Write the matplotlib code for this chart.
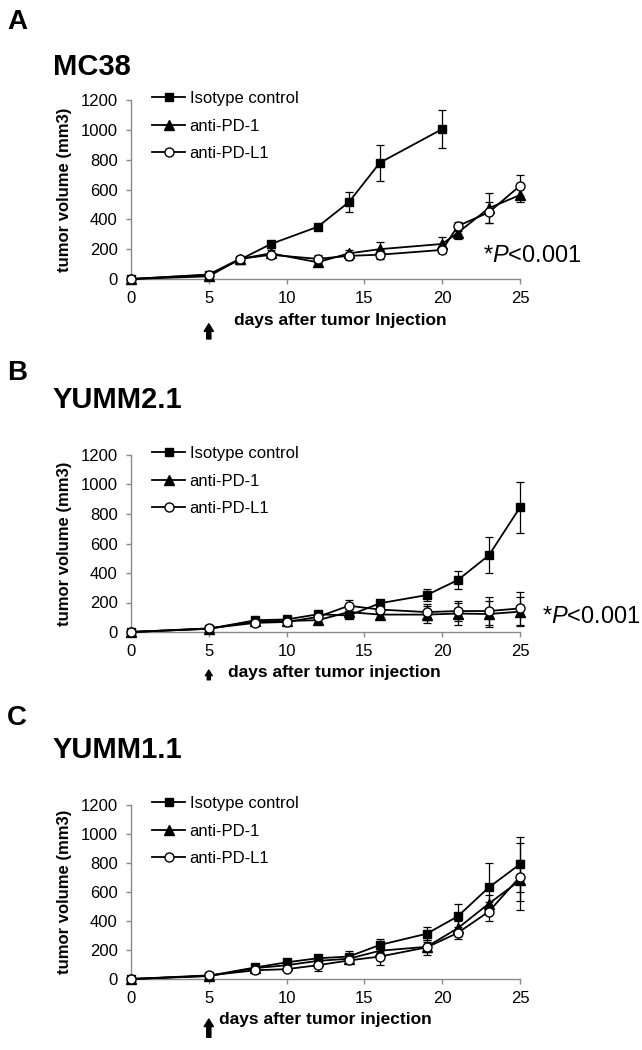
import matplotlib
matplotlib.use("Agg")
import matplotlib.pyplot as plt

plt.rcParams['font.family'] = ['Liberation Sans', 'DejaVu Sans']
plt.rcParams['mathtext.fontset'] = 'custom'
plt.rcParams['mathtext.rm'] = 'Liberation Sans'
plt.rcParams['mathtext.it'] = 'Liberation Sans:italic'

GROUPS = ["Isotype control", "anti-PD-1", "anti-PD-L1"]

# MC38 (panel A)
days_iso_a = [0, 5, 7, 9, 12, 14, 16, 20]
iso_a = [0, 28, 130, 235, 350, 515, 780, 1005]
iso_a_err = [0, 8, 15, 20, 15, 65, 120, 125]
days_a = [0, 5, 7, 9, 12, 14, 16, 20, 21, 23, 25]
pd1_a = [0, 18, 135, 172, 112, 172, 200, 235, 310, 475, 563]
pd1_a_err = [0, 5, 15, 20, 15, 25, 45, 45, 40, 100, 50]
pdl1_a = [0, 30, 135, 162, 135, 155, 163, 195, 355, 447, 625]
pdl1_a_err = [0, 8, 15, 15, 25, 25, 30, 20, 30, 70, 70]

# YUMM2.1 (panel B)
days_b = [0, 5, 8, 10, 12, 14, 16, 19, 21, 23, 25]
iso_b = [0, 22, 80, 85, 120, 112, 195, 250, 352, 520, 845]
iso_b_err = [0, 5, 12, 12, 15, 20, 20, 40, 62, 122, 172]
pd1_b = [0, 22, 72, 75, 80, 135, 118, 118, 125, 122, 138]
pd1_b_err = [0, 5, 10, 10, 12, 30, 20, 55, 75, 85, 100]
pdl1_b = [0, 25, 62, 68, 102, 178, 152, 135, 142, 142, 160]
pdl1_b_err = [0, 5, 10, 12, 15, 40, 25, 55, 70, 95, 112]

# YUMM1.1 (panel C)
days_c = [0, 5, 8, 10, 12, 14, 16, 19, 21, 23, 25]
iso_c = [0, 22, 80, 115, 143, 155, 235, 312, 432, 632, 792]
iso_c_err = [0, 5, 10, 15, 15, 40, 40, 45, 85, 165, 190]
pd1_c = [0, 20, 75, 95, 125, 140, 195, 222, 350, 520, 680]
pd1_c_err = [0, 5, 10, 12, 15, 20, 30, 35, 50, 60, 140]
pdl1_c = [0, 25, 60, 68, 95, 128, 155, 218, 318, 465, 705]
pdl1_c_err = [0, 5, 10, 12, 40, 20, 58, 50, 40, 65, 230]

STYLES = [dict(marker="s", mfc="black", ms=6),
          dict(marker="^", mfc="black", ms=6.5),
          dict(marker="o", mfc="white", ms=6.5)]
GREY = "#8a8a8a"

fig = plt.figure(figsize=(6.42, 10.5), dpi=100)


def panel(rect, series, xlab, xlab_x, arrow_y, ptext=None, arrow_scale=12):
    ax = fig.add_axes(rect)
    handles = []
    for (x, y, e), st, name in zip(series, STYLES, GROUPS):
        ax.errorbar(x, y, yerr=e, fmt="none", ecolor="black", elinewidth=0.9,
                    capsize=3, capthick=0.9, clip_on=False, zorder=2)
        h, = ax.plot(x, y, color="black", lw=1.3, mec="black", mew=1.0,
                     clip_on=False, zorder=3, label=name, **st)
        handles.append(h)
    ax.set_xlim(0, 25)
    ax.set_ylim(0, 1200)
    ax.set_xticks(range(0, 26, 5))
    ax.set_yticks(range(0, 1201, 200))
    for s in ["top", "right"]:
        ax.spines[s].set_visible(False)
    for s in ["left", "bottom"]:
        ax.spines[s].set_color(GREY)
        ax.spines[s].set_linewidth(1.0)
    ax.tick_params(colors=GREY, labelcolor="black", labelsize=12, length=3.5, width=1.0)
    ax.tick_params(axis="x", pad=5)
    ax.tick_params(axis="y", pad=6)
    ax.set_ylabel("tumor volume (mm3)", fontsize=12, fontweight="bold")
    ax.yaxis.label.set_va("center")
    ax.yaxis.set_label_coords(-0.17, 0.5)
    ax.set_xlabel(xlab, fontsize=12.5, fontweight="bold")
    ax.xaxis.label.set_va("center")
    ax.xaxis.set_label_coords(xlab_x, -0.23)
    ax.legend(handles=handles, loc="upper left", bbox_to_anchor=(0.054, 1.05),
              frameon=False, fontsize=12, handlelength=2.0, handletextpad=0.25,
              labelspacing=0.75, borderpad=0, borderaxespad=0)
    # treatment start arrow under day 5
    ax.annotate("", xy=(5, arrow_y[0]), xytext=(5, arrow_y[1]),
                xycoords=("data", "axes fraction"), textcoords=("data", "axes fraction"),
                arrowprops=dict(arrowstyle="simple,head_width=0.55,head_length=0.45,tail_width=0.25",
                                color="black", mutation_scale=arrow_scale,
                                shrinkA=0, shrinkB=0))
    if ptext:
        ax.text(ptext[0], ptext[1], r"*$\mathit{P}$<0.001", fontsize=17,
                ha="left", va="center", clip_on=False)
    return ax


panel([131/642, 1-279/1050, 389/642, 179/1050],
      [(days_iso_a, iso_a, iso_a_err), (days_a, pd1_a, pd1_a_err), (days_a, pdl1_a, pdl1_a_err)],
      "days after tumor Injection", 0.537, (-0.25, -0.335), (22.6, 154))
panel([131/642, 1-632/1050, 389/642, 177/1050],
      [(days_b, iso_b, iso_b_err), (days_b, pd1_b, pd1_b_err), (days_b, pdl1_b, pdl1_b_err)],
      "days after tumor injection", 0.524, (-0.215, -0.27), (26.4, 102), arrow_scale=9)
panel([131/642, 1-979/1050, 389/642, 174/1050],
      [(days_c, iso_c, iso_c_err), (days_c, pd1_c, pd1_c_err), (days_c, pdl1_c, pdl1_c_err)],
      "days after tumor injection", 0.50, (-0.23, -0.335))

for letter, name, yl, yn in [("A", "MC38", 22, 67), ("B", "YUMM2.1", 373, 400),
                             ("C", "YUMM1.1", 718, 750)]:
    fig.text(7/642, 1-yl/1050, letter, fontsize=20, fontweight="bold", ha="left", va="center")
    fig.text(53/642, 1-yn/1050, name, fontsize=21, fontweight="bold", ha="left", va="center")

fig.savefig("out.png", dpi=100)
